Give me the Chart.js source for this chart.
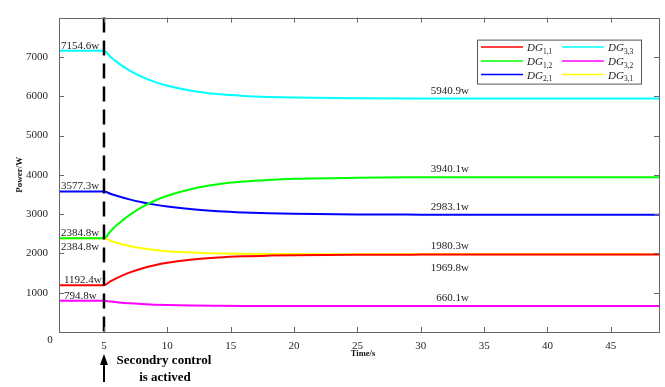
<!DOCTYPE html>
<html>
<head>
<meta charset="utf-8">
<script src="https://cdn.jsdelivr.net/npm/chart.js@4.4.1/dist/chart.umd.min.js"></script>
<style>
  body { margin: 0; background: #fff; }
  #wrap { width: 665px; height: 387px; position: relative; }
</style>
</head>
<body>
<div id="wrap"><canvas id="chart"></canvas></div>
<script>
// time axis (s) and power values (W)
const times = [0, 5, 5.5, 6, 7, 8, 9, 10, 12, 14, 16, 18, 20, 25, 30, 35, 40, 45, 50];

const dg11 = [1192.4, 1192.4, 1288, 1372, 1510, 1616, 1698, 1761, 1846, 1897, 1927, 1944, 1955, 1966, 1969, 1969.5, 1969.8, 1969.8, 1969.8];
const dg12 = [2384.8, 2384.8, 2559, 2714, 2974, 3177, 3340, 3467, 3646, 3758, 3827, 3870, 3897, 3927, 3936, 3939, 3940, 3940.1, 3940.1];
const dg21 = [3577.3, 3577.3, 3518, 3466, 3375, 3301, 3241, 3193, 3121, 3074, 3043, 3023, 3009, 2991, 2986, 2984, 2983.5, 2983.1, 2983.1];
const dg33 = [7154.6, 7154.6, 7005, 6874, 6658, 6492, 6365, 6266, 6134, 6054, 6008, 5981, 5964, 5947, 5942, 5941, 5941, 5940.9, 5940.9];
const dg32 = [794.8, 794.8, 774, 757, 729, 710, 696, 686, 673, 667, 663.5, 662, 661, 660.2, 660.1, 660.1, 660.1, 660.1, 660.1];
const dg31 = [2384.8, 2384.8, 2322, 2270, 2188, 2129, 2087, 2057, 2020, 2000, 1991, 1986, 1983, 1981, 1980.3, 1980.3, 1980.3, 1980.3, 1980.3];

const seriesNames = ['1,1', '1,2', '2,1', '3,3', '3,2', '3,1'];
const seriesColors = ['#ff0000', '#00ff00', '#0000ff', '#00ffff', '#ff00ff', '#ffff00'];
const seriesValues = [dg11, dg12, dg21, dg33, dg32, dg31];

const xTicks = [5, 10, 15, 20, 25, 30, 35, 40, 45];
const yTicks = [1000, 2000, 3000, 4000, 5000, 6000, 7000];
const switchTime = 5;

// value labels: initial values at the left, steady values at the right
const startLabels = [
  { text: '7154.6w', v: 7154.6, below: false },
  { text: '3577.3w', v: 3577.3, below: false },
  { text: '2384.8w', v: 2384.8, below: false },
  { text: '2384.8w', v: 2384.8, below: true },
  { text: '1192.4w', v: 1192.4, below: false },
  { text: '794.8w', v: 794.8, below: false }
];
const endLabels = [
  { text: '5940.9w', v: 5940.9, below: false },
  { text: '3940.1w', v: 3940.1, below: false },
  { text: '2983.1w', v: 2983.1, below: false },
  { text: '1980.3w', v: 1980.3, below: false },
  { text: '1969.8w', v: 1969.8, below: true },
  { text: '660.1w', v: 660.1, below: false }
];

const SERIF = '"Liberation Serif", "Times New Roman", serif';

const overlay = {
  id: 'overlay',
  afterDatasetsDraw(chart) {
    const { ctx, chartArea: a, scales: { x } } = chart;
    const xs = x.getPixelForValue(switchTime);
    ctx.save();
    ctx.strokeStyle = '#000';
    ctx.lineWidth = 2.5;
    ctx.setLineDash([15, 8]);
    ctx.beginPath();
    ctx.moveTo(xs, a.top);
    ctx.lineTo(xs, a.bottom);
    ctx.stroke();
    ctx.restore();
  },
  afterDraw(chart) {
    const { ctx, chartArea: a, scales: { x, y } } = chart;
    ctx.save();

    // box
    ctx.strokeStyle = '#666';
    ctx.lineWidth = 1;
    ctx.strokeRect(Math.round(a.left) + 0.5, Math.round(a.top) + 0.5,
      Math.round(a.right - a.left), Math.round(a.bottom - a.top));

    // inward tick marks on all four sides
    ctx.beginPath();
    xTicks.forEach(t => {
      const px = Math.round(x.getPixelForValue(t)) + 0.5;
      ctx.moveTo(px, a.bottom); ctx.lineTo(px, a.bottom - 5);
      ctx.moveTo(px, a.top); ctx.lineTo(px, a.top + 5);
    });
    yTicks.forEach(v => {
      const py = Math.round(y.getPixelForValue(v)) + 0.5;
      ctx.moveTo(a.left, py); ctx.lineTo(a.left + 5, py);
      ctx.moveTo(a.right, py); ctx.lineTo(a.right - 5, py);
    });
    ctx.stroke();

    // origin label
    ctx.fillStyle = '#262626';
    ctx.font = '11px ' + SERIF;
    ctx.textAlign = 'center';
    ctx.textBaseline = 'middle';
    ctx.fillText('0', a.left - 9, y.getPixelForValue(0) + 8);

    // value labels
    ctx.fillStyle = '#222';
    ctx.textBaseline = 'alphabetic';
    ctx.textAlign = 'left';
    startLabels.forEach(l => {
      const py = y.getPixelForValue(l.v);
      const px = l.v < 2000 ? a.left + 5 : a.left + 2;
      ctx.fillText(l.text, px, l.below ? py + 12 : py - 2);
    });
    ctx.textAlign = 'right';
    const rx = x.getPixelForValue(33.8);
    endLabels.forEach(l => {
      const py = y.getPixelForValue(l.v);
      ctx.fillText(l.text, rx, l.below ? py + 16 : py - 5);
    });

    // axis titles
    ctx.fillStyle = '#111';
    ctx.font = 'bold 8.5px ' + SERIF;
    ctx.textAlign = 'center';
    ctx.textBaseline = 'middle';
    ctx.fillText('Time/s', (a.left + a.right) / 2 + 4, a.bottom + 22);
    ctx.save();
    ctx.translate(19.5, (a.top + a.bottom) / 2);
    ctx.rotate(-Math.PI / 2);
    ctx.font = 'bold 9px ' + SERIF;
    ctx.fillText('Power/W', 0, 0);
    ctx.restore();

    // arrow and note below the switching instant
    const xs = x.getPixelForValue(switchTime);
    ctx.strokeStyle = '#000';
    ctx.fillStyle = '#000';
    ctx.lineWidth = 2;
    ctx.beginPath();
    ctx.moveTo(xs, a.bottom + 50);
    ctx.lineTo(xs, a.bottom + 30);
    ctx.stroke();
    ctx.beginPath();
    ctx.moveTo(xs, a.bottom + 22);
    ctx.lineTo(xs - 4, a.bottom + 33);
    ctx.lineTo(xs + 4, a.bottom + 33);
    ctx.closePath();
    ctx.fill();
    ctx.font = 'bold 13px ' + SERIF;
    ctx.textBaseline = 'alphabetic';
    ctx.fillText('Secondry control', xs + 60, a.bottom + 32);
    ctx.fillText('is actived', xs + 61, a.bottom + 49);

    // legend
    const lx = a.right - 182, ly = a.top + 22, lw = 164, lh = 44;
    ctx.fillStyle = '#fff';
    ctx.fillRect(lx, ly, lw, lh);
    ctx.strokeStyle = '#555';
    ctx.lineWidth = 1;
    ctx.strokeRect(lx + 0.5, ly + 0.5, lw, lh);
    const rows = [7.5, 21.5, 35];
    seriesNames.forEach((name, i) => {
      const col = Math.floor(i / 3);
      const cy = ly + rows[i % 3];
      const x0 = lx + 4 + col * 81;
      ctx.strokeStyle = seriesColors[i];
      ctx.lineWidth = 1.5;
      ctx.beginPath();
      ctx.moveTo(x0, cy);
      ctx.lineTo(x0 + 42, cy);
      ctx.stroke();
      ctx.fillStyle = '#222';
      ctx.textAlign = 'left';
      ctx.font = 'italic 11px ' + SERIF;
      ctx.fillText('DG', x0 + 46, cy + 4);
      const w = ctx.measureText('DG').width;
      ctx.font = '7.5px ' + SERIF;
      ctx.fillText(name, x0 + 46 + w, cy + 6.5);
    });

    ctx.restore();
  }
};

new Chart(document.getElementById('chart'), {
  type: 'line',
  data: {
    datasets: seriesValues.map((vals, i) => ({
      label: 'DG' + seriesNames[i],
      data: vals.map((v, k) => ({ x: times[k], y: v })),
      borderColor: seriesColors[i],
      borderWidth: 2,
      pointRadius: 0,
      fill: false,
      cubicInterpolationMode: 'monotone'
    }))
  },
  options: {
    responsive: true,
    maintainAspectRatio: false,
    animation: false,
    layout: { padding: { top: 7, right: 6, left: 0, bottom: 0 } },
    plugins: { legend: { display: false }, tooltip: { enabled: false } },
    scales: {
      x: {
        type: 'linear',
        min: 1.45,
        max: 48.8,
        grid: { display: false, drawTicks: false },
        border: { display: false },
        afterBuildTicks: s => { s.ticks = xTicks.map(v => ({ value: v })); },
        afterFit: s => { s.height = 55; },
        ticks: { color: '#262626', padding: 8, maxRotation: 0, font: { family: SERIF, size: 11 },
          callback: v => String(v) }
      },
      y: {
        min: 0,
        max: 8000,
        grid: { display: false, drawTicks: false },
        border: { display: false },
        afterBuildTicks: s => { s.ticks = yTicks.map(v => ({ value: v })); },
        afterFit: s => { s.width = 59; },
        ticks: { color: '#262626', padding: 11, font: { family: SERIF, size: 11 },
          callback: v => String(v) }
      }
    }
  },
  plugins: [overlay]
});
</script>
</body>
</html>
